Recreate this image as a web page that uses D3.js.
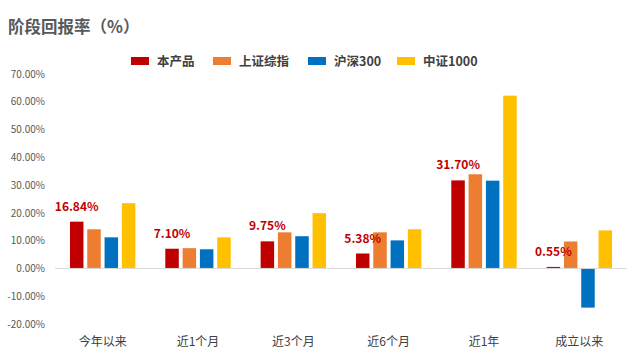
<!DOCTYPE html>
<html><head><meta charset="utf-8">
<script src="https://cdn.jsdelivr.net/npm/d3@7"></script>
<style>body{margin:0;background:#fff;}svg{display:block;font-family:"Noto Sans CJK SC","Noto Sans",sans-serif;}</style>
</head><body>
<svg id="c" width="640" height="361"></svg>
<script>
const categories = ["今年以来","近1个月","近3个月","近6个月","近1年","成立以来"];
const seriesNames = ["本产品","上证综指","沪深300","中证1000"];
const product = [16.84, 7.10, 9.75, 5.38, 31.70, 0.55];
const shIndex = [14.1, 7.3, 13.0, 13.0, 33.9, 9.7];
const hs300 = [11.2, 6.9, 11.6, 10.1, 31.6, -14.1];
const zz1000 = [23.5, 11.2, 19.9, 14.1, 62.2, 13.7];
const yTicks = [-20,-10,0,10,20,30,40,50,60,70];
const colors = ["#C00000","#ED7D31","#0070C0","#FFC000"];
const allSeries = [product, shIndex, hs300, zz1000];

const svg = d3.select("#c");
const x = d3.scaleBand().domain(categories).range([55, 627]).padding(0);
const xi = d3.scaleBand().domain(d3.range(4)).range([0, x.bandwidth()]).paddingInner(0.22).paddingOuter(0.865);
const y = d3.scaleLinear().domain([-20, 70]).range([324, 74]);

// title
svg.append("text").attr("x", 8).attr("y", 33).attr("font-size", 16.5).attr("font-weight", "bold")
  .attr("fill", "#595959").text("阶段回报率（%）");

// y axis labels
const yAxis = d3.axisLeft(y).tickValues(yTicks).tickSize(0).tickPadding(0)
  .tickFormat(d => d.toFixed(2) + "%");
const ya = svg.append("g").attr("transform", "translate(45,0)").call(yAxis);
ya.select(".domain").remove();
ya.selectAll("text").attr("font-size", 10).attr("fill", "#595959")
  .attr("font-family", "\"Noto Sans CJK SC\",sans-serif");

// bars
categories.forEach((c, ci) => {
  allSeries.forEach((s, si) => {
    const v = s[ci];
    svg.append("rect")
      .attr("x", x(c) + xi(si))
      .attr("width", xi.bandwidth())
      .attr("y", y(Math.max(0, v)))
      .attr("height", Math.abs(y(v) - y(0)))
      .attr("fill", colors[si]);
  });
});

// zero line
svg.append("line").attr("x1", 55).attr("x2", 627).attr("y1", y(0)).attr("y2", y(0))
  .attr("stroke", "#D9D9D9").attr("stroke-width", 1);

// product labels
categories.forEach((c, ci) => {
  svg.append("text")
    .attr("x", x(c) + xi(0) + xi.bandwidth() / 2)
    .attr("y", y(product[ci]) - 11)
    .attr("text-anchor", "middle").attr("font-size", 12).attr("font-weight", "bold")
    .attr("fill", "#C00000").text(product[ci].toFixed(2) + "%");
});

// x axis labels
const xAxis = d3.axisBottom(x).tickSize(0).tickPadding(0);
const xa = svg.append("g").attr("transform", "translate(0,337)").call(xAxis);
xa.select(".domain").remove();
xa.selectAll("text").attr("font-size", 12).attr("fill", "#404040")
  .attr("font-family", "\"Noto Sans CJK SC\",sans-serif");

// legend
const legendX = [131, 213, 308, 397];
const lg = svg.append("g");
seriesNames.forEach((n, i) => {
  lg.append("rect").attr("x", legendX[i]).attr("y", 57).attr("width", 18).attr("height", 8).attr("fill", colors[i]);
  lg.append("text").attr("x", legendX[i] + 26).attr("y", 66).attr("font-size", 12.5).attr("font-weight", "bold")
    .attr("fill", "#404040").text(n);
});
</script>
</body></html>
